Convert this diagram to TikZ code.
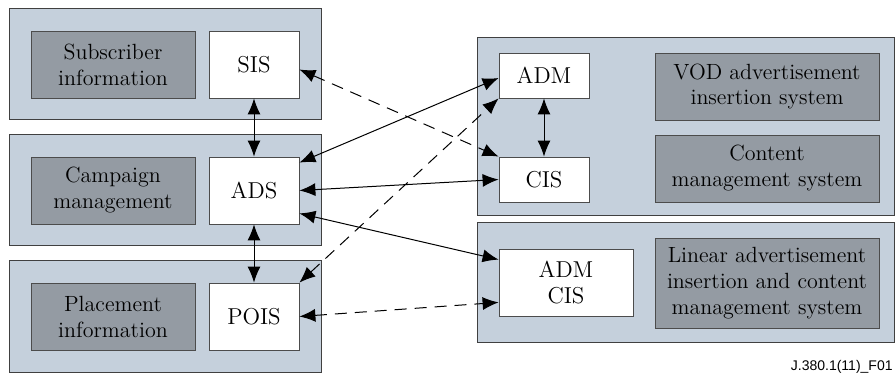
\documentclass[tikz,border=0pt]{standalone}
\usepackage{fontspec}
\newfontfamily\repere{Liberation Sans}
\usetikzlibrary{arrows.meta,calc}
\definecolor{fondbleu}{RGB}{197,208,220}
\definecolor{grisfonce}{RGB}{148,155,163}
\begin{document}
\begin{tikzpicture}[x=0.5pt,y=-0.5pt]
		\tikzstyle{cadre}=[draw=black!75,fill=fondbleu,line width=0.5pt,minimum width=156pt]
		\tikzstyle{bloc_gris}=[draw=black!70,fill=grisfonce,align=center,inner sep=0pt,font=\rmfamily\fontsize{11}{13}\selectfont]
		\tikzstyle{bloc_blanc}=[draw=black!70,fill=white,align=center,inner sep=0pt,font=\rmfamily\fontsize{11.5}{13}\selectfont]
		\tikzstyle{fleche}=[{Latex[length=8pt,width=6.5pt]}-{Latex[length=8pt,width=6.5pt]},line width=0.5pt]
		\tikzstyle{fleche_tiret}=[fleche,dash pattern=on 6pt off 4pt]
		\useasboundingbox (0,0) rectangle (896,374);
		% colonne gauche
		\node[cadre,minimum height=55.5pt] (cadreSIS) at (165,64.5) {};
		\node[cadre,minimum height=55.5pt] (cadreADS) at (165,190.5) {};
		\node[cadre,minimum height=56pt] (cadrePOIS) at (165,317) {};
		\node[bloc_gris,minimum width=82pt,minimum height=33.5pt] (abonne) at (113,64.5) {Subscriber\\information};
		\node[bloc_gris,minimum width=82pt,minimum height=33.5pt] (campagne) at (113,190.5) {Campaign\\management};
		\node[bloc_gris,minimum width=82pt,minimum height=33.5pt] (placement) at (113,316.5) {Placement\\information};
		\node[bloc_blanc,minimum width=45pt,minimum height=33.5pt] (SIS) at (254,64.5) {SIS};
		\node[bloc_blanc,minimum width=45pt,minimum height=33.5pt] (ADS) at (254,190.5) {ADS};
		\node[bloc_blanc,minimum width=45pt,minimum height=33.5pt] (POIS) at (254,316.5) {POIS};
		% colonne droite
		\node[cadre,minimum width=208.5pt,minimum height=89pt] (cadreVOD) at (685.5,127) {};
		\node[cadre,minimum width=208.5pt,minimum height=60pt] (cadreLin) at (685.5,283) {};
		\node[bloc_blanc,minimum width=45pt,minimum height=22.5pt] (ADM) at (544,75.5) {ADM};
		\node[bloc_blanc,minimum width=45pt,minimum height=22.5pt] (CIS) at (544,179.5) {CIS};
		\node[bloc_gris,minimum width=112pt,minimum height=33.5pt] (VOD) at (767,86.5) {VOD advertisement\\insertion system};
		\node[bloc_gris,minimum width=112pt,minimum height=33.5pt] (contenu) at (767,168.5) {Content\\management system};
		\node[bloc_blanc,minimum width=67pt,minimum height=33.5pt] (ADMCIS) at (566,282.5) {ADM\\CIS};
		\node[bloc_gris,minimum width=112pt,minimum height=45pt] (lineaire) at (767,283) {Linear advertisement\\insertion and content\\management system};
		\node[anchor=base east,inner sep=0pt,font=\repere\fontsize{7}{8}\selectfont] (repere) at (893,371) {J.380.1(11)\_F01};
		% liaisons
		\draw[fleche] (SIS.south) -- (ADS.north);
		\draw[fleche] (ADS.south) -- (POIS.north);
		\draw[fleche] (ADM.south) -- (CIS.north);
		\draw[fleche] ($(ADS.north east)+(0,6)$) -- ($(ADM.west)+(0,2.5)$);
		\draw[fleche] (ADS.east) -- (CIS.west);
		\draw[fleche] ($(ADS.south east)+(0,-11)$) -- ($(ADMCIS.north west)+(0,11)$);
		\draw[fleche_tiret] ($(SIS.east)+(0,5)$) -- (CIS.north west);
		\draw[fleche_tiret] (POIS.north east) -- (ADM.south west);
		\draw[fleche_tiret] (POIS.east) -- ($(ADMCIS.south west)+(0,-14)$);
	\end{tikzpicture}
\end{document}
